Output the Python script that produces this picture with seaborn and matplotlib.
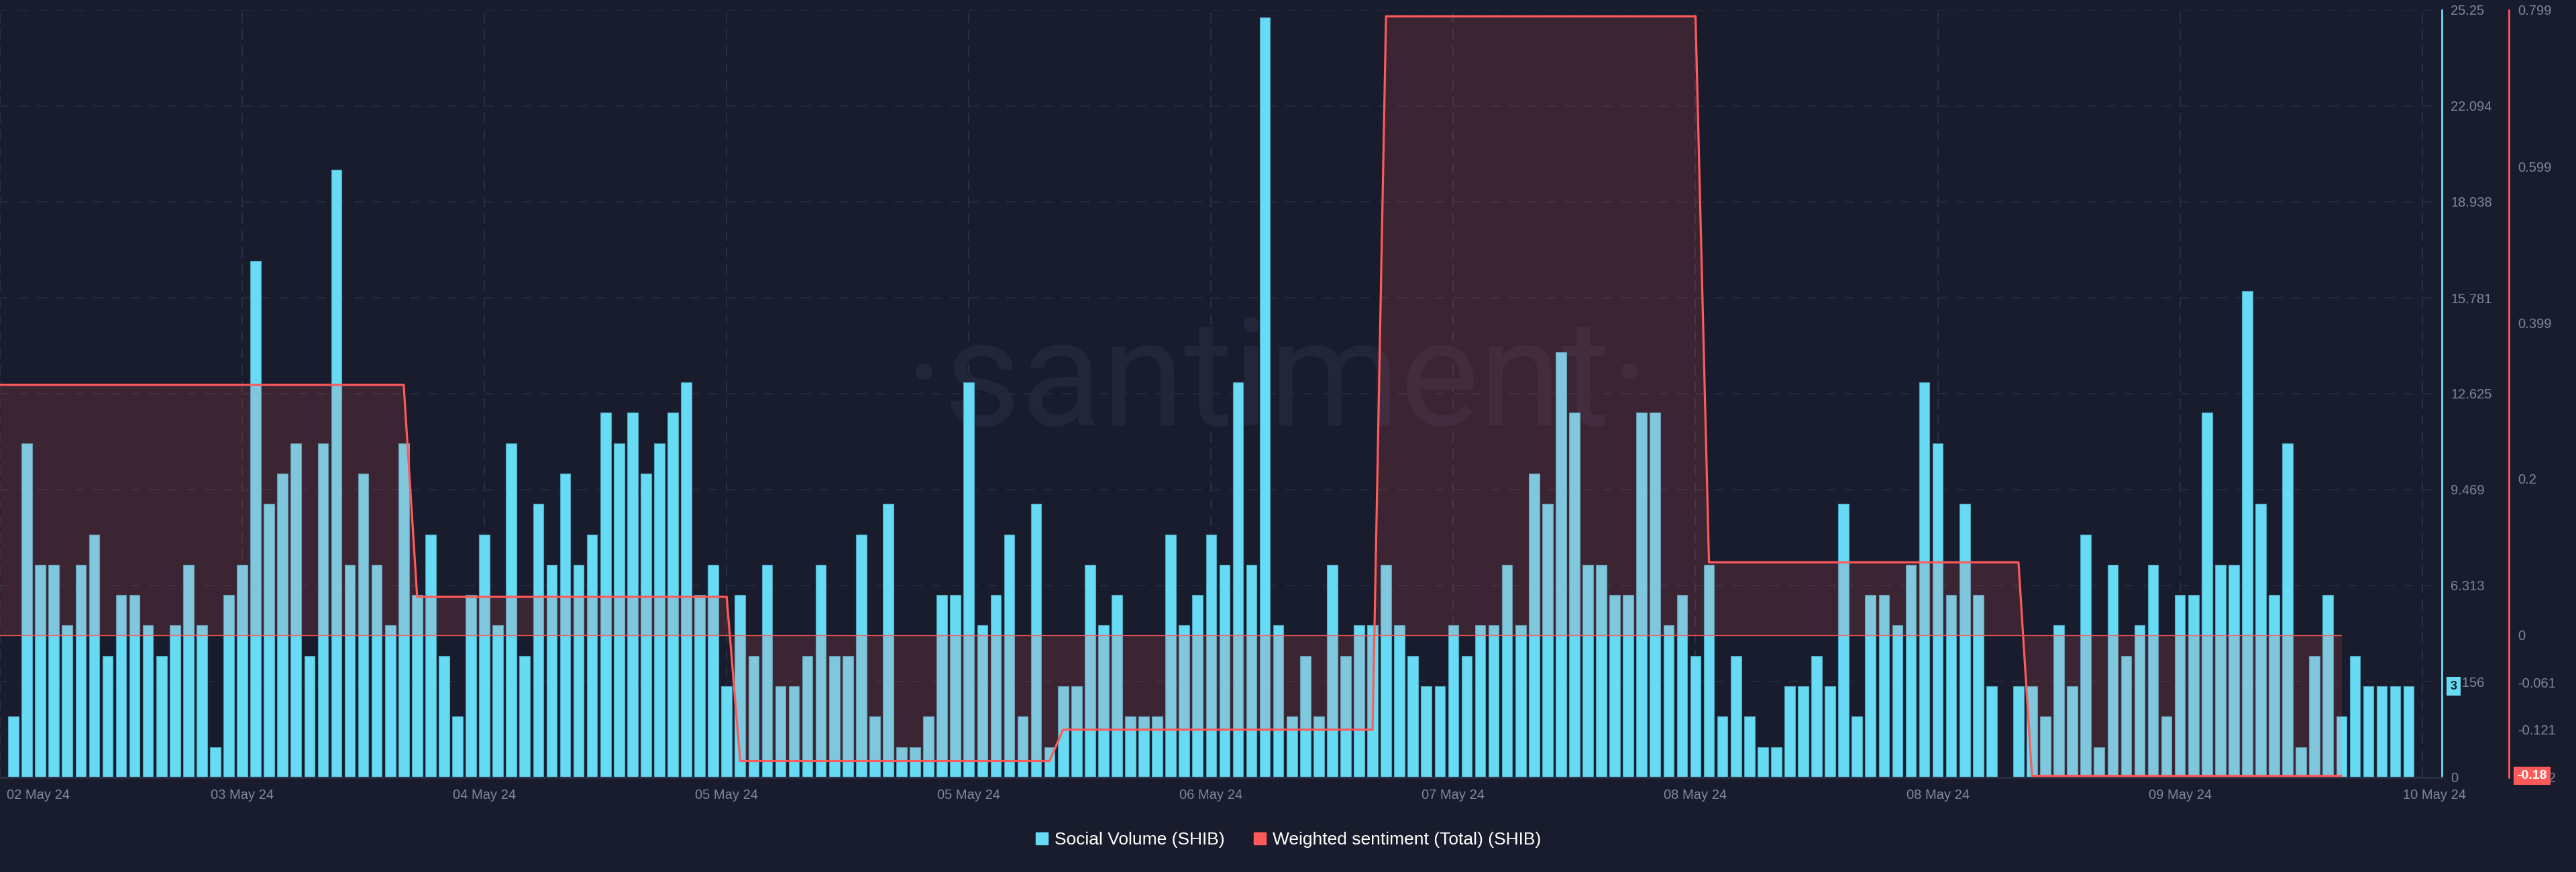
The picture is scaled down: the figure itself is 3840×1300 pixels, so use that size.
import numpy as np
import pandas as pd
import matplotlib
matplotlib.use('Agg')
import matplotlib.pyplot as plt
import matplotlib.transforms as mtrans
from matplotlib.lines import Line2D
from matplotlib import font_manager
import seaborn as sns

# ---------------- data ----------------
social_volume = [
    2, 11, 7, 7, 5, 7, 8, 4, 6, 6, 5, 4, 5, 7, 5, 1, 6, 7, 17, 9,
    10, 11, 4, 11, 20, 7, 10, 7, 5, 11, 6, 8, 4, 2, 6, 8, 5, 11, 4, 9,
    7, 10, 7, 8, 12, 11, 12, 10, 11, 12, 13, 6, 7, 3, 6, 4, 7, 3, 3, 4,
    7, 4, 4, 8, 2, 9, 1, 1, 2, 6, 6, 13, 5, 6, 8, 2, 9, 1, 3, 3,
    7, 5, 6, 2, 2, 2, 8, 5, 6, 8, 7, 13, 7, 25, 5, 2, 4, 2, 7, 4,
    5, 5, 7, 5, 4, 3, 3, 5, 4, 5, 5, 7, 5, 10, 9, 14, 12, 7, 7, 6,
    6, 12, 12, 5, 6, 4, 7, 2, 4, 2, 1, 1, 3, 3, 4, 3, 9, 2, 6, 6,
    5, 7, 13, 11, 6, 9, 6, 3, 0, 3, 3, 2, 5, 3, 8, 1, 7, 4, 5, 7,
    2, 6, 6, 12, 7, 7, 16, 9, 6, 11, 1, 4, 6, 2, 4, 3, 3, 3, 3,
]
# daily weighted sentiment, shown for every hour of the day
sentiment = ([0.32] * 31 + [0.049] * 24 + [-0.161] * 24 + [-0.121] * 24
             + [0.791] * 24 + [0.093] * 24 + [-0.18] * 24)
sentiment_first_hour = -1

date_labels = ['02 May 24', '03 May 24', '04 May 24', '05 May 24', '05 May 24', '06 May 24',
               '07 May 24', '08 May 24', '08 May 24', '09 May 24', '10 May 24']
date_label_hours = [-1, 17, 35, 53, 71, 89, 107, 125, 143, 161, 179]

vol_ticks = [0, 3.156, 6.313, 9.469, 12.625, 15.781, 18.938, 22.094, 25.25]
vol_tick_labels = ['0', '3.156', '6.313', '9.469', '12.625', '15.781', '18.938', '22.094', '25.25']
sent_ticks = [-0.182, -0.121, -0.061, 0, 0.2, 0.399, 0.599, 0.799]
sent_tick_labels = ['-0.182', '-0.121', '-0.061', '0', '0.2', '0.399', '0.599', '0.799']
legend_labels = ['Social Volume (SHIB)', 'Weighted sentiment (Total) (SHIB)']
last_volume_label = '3'
last_sentiment_label = '-0.18'

# ---------------- style ----------------
BG = '#191c2c'
CYAN = '#68dbf4'
RED = '#ff5a5a'
GRID = '#252a3b'
VGRID = '#2b2f43'
TICK = '#80879c'

sns.set_theme(style='dark')
names = {f.name for f in font_manager.fontManager.ttflist}
narrow = 'Liberation Sans Narrow' if 'Liberation Sans Narrow' in names else 'Roboto'
plt.rcParams['font.family'] = ['Liberation Sans', 'DejaVu Sans']
plt.rcParams['lines.scale_dashes'] = False

W, H = 3840, 1300
fig = plt.figure(figsize=(W / 100, H / 100), dpi=100, facecolor=BG)
ax_left, ax_right, ax_top, ax_bot = 0, 3640, 15, 1159
ax = fig.add_axes([ax_left / W, (H - ax_bot) / H, (ax_right - ax_left) / W, (ax_bot - ax_top) / H])
ax.set_facecolor(BG)

df = pd.DataFrame({'hour': np.arange(len(social_volume)), 'volume': social_volume})
sns.barplot(data=df, x='hour', y='volume', color=CYAN, saturation=1, width=0.78,
            edgecolor='#4ea4bd', linewidth=0.8, errorbar=None, ax=ax, zorder=2)

ax.set_xlim(-1.0, 180.46)
ax.set_ylim(0, 25.25)
ax.set_xlabel('')
ax.set_ylabel('')

# ---------------- sentiment axis ----------------
ax2 = ax.twinx()
ax2.set_ylim(-0.182, 0.799)
sent_x = np.arange(len(sentiment)) + sentiment_first_hour
ax2.fill_between(sent_x, sentiment, 0, color=RED, alpha=0.15, lw=0, zorder=3)
ax2.plot(sent_x, np.zeros(len(sentiment)), color=RED, lw=1.0, alpha=0.9, zorder=4)
sns.lineplot(x=sent_x, y=sentiment, ax=ax2, color=RED, lw=2.3, zorder=5)
ax2.set_xlim(-1.0, 180.46)

ax2.set_yticks(sent_ticks, sent_tick_labels)
ax2.tick_params(axis='y', length=0, pad=9.5, labelsize=14.5, labelcolor=TICK)
ax2.spines['right'].set_position(('axes', 3740 / 3640))
ax2.spines['right'].set_color(RED)
ax2.spines['right'].set_linewidth(2)
for s in ['left', 'top', 'bottom']:
    ax2.spines[s].set_visible(False)
ax2.grid(False)

# x ticks
ax.set_xticks(date_label_hours, date_labels)
ax.tick_params(axis='x', length=0, pad=12, labelsize=14.5, labelcolor=TICK)
xl = ax.get_xticklabels()
xl[0].set_horizontalalignment('left')
xl[0].set_transform(xl[0].get_transform() + mtrans.ScaledTranslation(0.10, 0, fig.dpi_scale_trans))
xl[-1].set_transform(xl[-1].get_transform() + mtrans.ScaledTranslation(0.18, 0, fig.dpi_scale_trans))

# y ticks (volume) on right (after twinx, which resets them to the left)
ax.yaxis.tick_right()
ax.yaxis.set_label_position('right')
ax.set_yticks(vol_ticks, vol_tick_labels)
ax.tick_params(axis='y', which='both', left=False, labelleft=False, right=True, labelright=True,
               length=0, pad=9.5, labelsize=14.5, labelcolor=TICK)

ax.set_axisbelow(True)
ax.yaxis.grid(True, color=GRID, linestyle=(0, (10, 10)), linewidth=1.5)
ax.xaxis.grid(True, color=VGRID, linestyle=(0, (11, 7)), linewidth=1.5)

for s in ['left', 'top']:
    ax.spines[s].set_visible(False)
ax.spines['right'].set_color(CYAN)
ax.spines['right'].set_linewidth(2)
ax.spines['bottom'].set_color('#2b2f42')
ax.spines['bottom'].set_linewidth(2)

# watermark
ax.text(0.523, 0.459, '·santiment·', transform=ax.transAxes, ha='center', va='baseline',
        fontsize=160, color='#22263a', family=[narrow, 'DejaVu Sans'], zorder=1)

# last-value marker on volume axis
blend = mtrans.blended_transform_factory(ax.transAxes, ax.transData)
ax.text(3657.5 / 3640, social_volume[-1], last_volume_label, transform=blend, ha='center', va='center',
        fontsize=13, color='#15182a', fontweight='bold', zorder=10, clip_on=False,
        bbox=dict(boxstyle='square,pad=0.32', fc=CYAN, ec='none'))

blend2 = mtrans.blended_transform_factory(ax2.transAxes, ax2.transData)
ax2.text(3774.5 / 3640, sentiment[-1], last_sentiment_label, transform=blend2, ha='center', va='center',
         fontsize=14, color='white', fontweight='bold', zorder=10, clip_on=False,
         bbox=dict(boxstyle='square,pad=0.25', fc=RED, ec='none'))

# ---------------- legend ----------------
handles = [Line2D([], [], marker='s', ls='none', markersize=13, color=CYAN),
           Line2D([], [], marker='s', ls='none', markersize=13, color=RED)]
fig.legend(handles, legend_labels, loc='center', bbox_to_anchor=(0.5, 1 - 1252 / H), ncol=2,
           frameon=False, fontsize=19, labelcolor='white', handletextpad=0.3,
           columnspacing=1.6, handlelength=0.8)

fig.savefig('out.png', dpi=100, facecolor=BG)
